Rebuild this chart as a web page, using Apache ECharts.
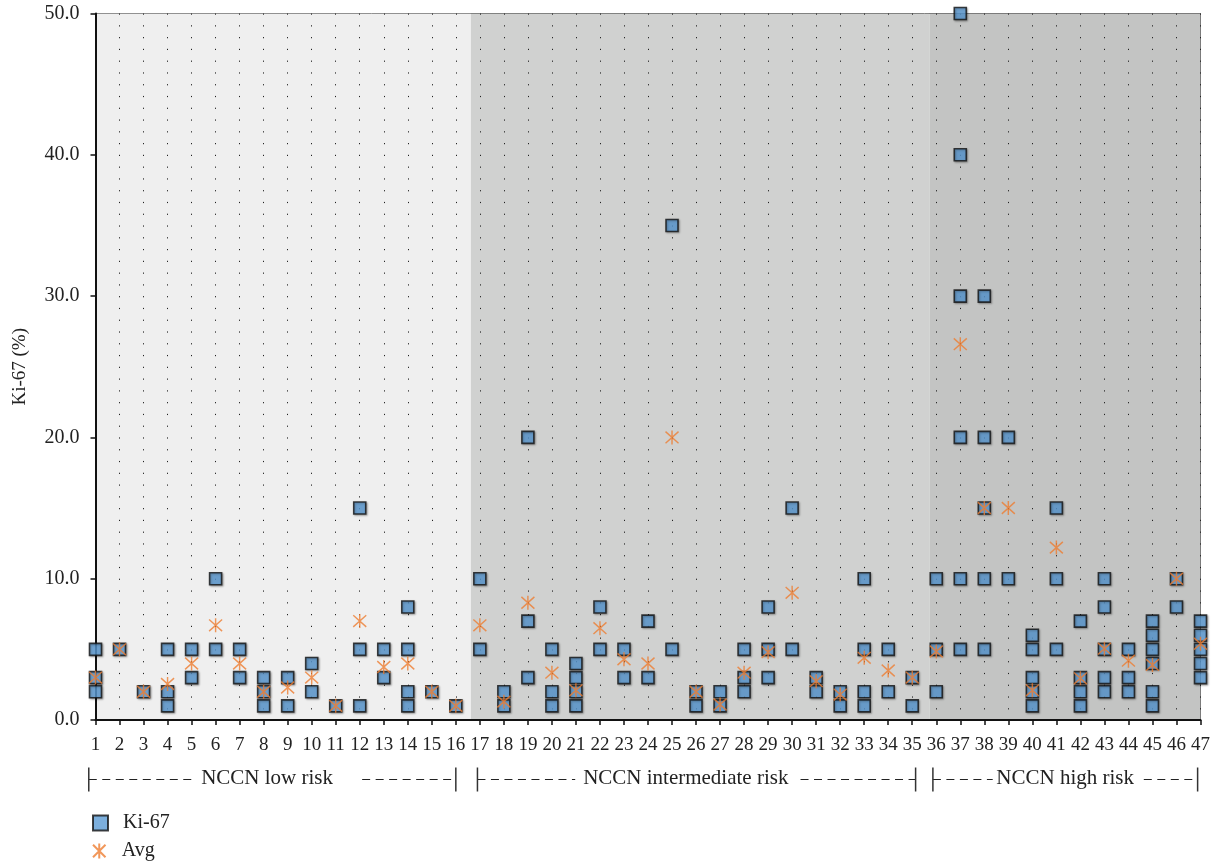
<!DOCTYPE html>
<html><head><meta charset="utf-8">
<script src="https://cdn.jsdelivr.net/npm/echarts@6/dist/echarts.min.js"></script>
<style>html,body{margin:0;padding:0;background:#fff}#c{width:1212px;height:863px}</style>
</head><body><div id="c"></div>
<script>
const patients = [1,2,3,4,5,6,7,8,9,10,11,12,13,14,15,16,17,18,19,20,21,22,23,24,25,26,27,28,29,30,31,32,33,34,35,36,37,38,39,40,41,42,43,44,45,46,47];
const ki67 = [
  [5,3,2],[5],[2],[5,2,1],[5,3],[10,5],[5,3],[3,2,1],[3,1],[4,2],
  [1],[15,5,1],[5,3],[8,5,2,1],[2],[1],[10,5],[2,1],[20,7,3],[5,2,1],
  [4,3,2,1],[8,5],[5,3],[7,3],[35,5],[2,1],[2,1],[5,3,2],[8,5,3],[15,5],
  [3,2],[2,1],[10,5,2,1],[5,2],[3,1],[10,5,2],[50,40,30,20,10,5],[30,20,15,10,5],[20,10],[6,5,3,2,1],
  [15,10,5],[7,3,2,1],[10,8,5,3,2],[5,3,2],[7,6,5,4,2,1],[10,8],[7,6,5,4,3]
];
const avg = [3,5,2,2.55,4,6.7,4,2,2.3,3,1,7,3.75,4,2,1,6.7,1.3,8.3,3.35,2.1,6.5,4.3,4,20,2,1.1,3.35,4.8,9,2.75,1.8,4.4,3.5,3,4.85,26.6,15,15,2.1,12.2,2.95,5.05,4.2,3.9,10,5.4];
const yTicks = [0,10,20,30,40,50];
const groupNames = ['NCCN low risk','NCCN intermediate risk','NCCN high risk'];
// band extents along patient axis
const bandEdges = [[1,16.63],[16.63,35.73],[35.73,47]];
// bracket extents: [start, leftDashEnd, textLeft, rightDashStart, end]
const brackets = [[0.72,5.05,5.4,12.1,16.0],[16.9,20.97,21.3,30.35,35.14],[35.86,38.35,38.5,44.64,46.88]];

const bandColors = ['#efefef','#d0d1d0','#c3c4c3'];
const FONT = '"Liberation Serif","DejaVu Serif",serif';

const kiPoints = [];
ki67.forEach((vals,i)=>vals.forEach(v=>kiPoints.push([patients[i],v])));
const avgPoints = avg.map((v,i)=>[patients[i],v]);

const legendText = {fontFamily:FONT,fontSize:20,color:'#222',padding:[0,0,0,10]};
const chart = echarts.init(document.getElementById('c'));
const option = {
  animation:false,
  backgroundColor:'#fff',
  grid:{left:95.5,right:11.5,top:13.5,bottom:143,show:true,borderColor:'#333',borderWidth:1,backgroundColor:'transparent',outerBoundsMode:'none',containLabel:false},
  xAxis:{type:'value',min:1,max:47,interval:1,z:5,
    axisLine:{show:true,lineStyle:{color:'#111',width:2}},
    axisTick:{show:true,length:5,lineStyle:{color:'#111',width:1.5}},
    axisLabel:{fontFamily:FONT,fontSize:19,color:'#222',margin:16},
    splitLine:{show:true,lineStyle:{color:'#222',width:1,type:[1.2,10.575]}}
  },
  yAxis:{type:'value',min:yTicks[0],max:yTicks[yTicks.length-1],interval:10,z:5,
    name:'Ki-67 (%)',nameLocation:'middle',nameGap:66,nameRotate:90,
    nameTextStyle:{fontFamily:FONT,fontSize:19,color:'#222'},
    axisLine:{show:true,lineStyle:{color:'#111',width:2}},
    axisTick:{show:true,length:5,lineStyle:{color:'#111',width:1.5}},
    axisLabel:{fontFamily:FONT,fontSize:20,color:'#222',margin:16,formatter:v=>v.toFixed(1)},
    splitLine:{show:false}
  },
  legend:[
    {left:92,top:813,padding:0,itemWidth:15,itemHeight:15,textStyle:legendText,data:['Ki-67']},
    {left:92,top:841,padding:0,itemWidth:15,itemHeight:15,textStyle:legendText,data:['Avg']}
  ],
  series:[
    {type:'line',name:'bands',data:[],z:-10,silent:true,
      markArea:{silent:true,data:bandEdges.map((b,i)=>[{xAxis:b[0],itemStyle:{color:bandColors[i]}},{xAxis:b[1]}])}},
    {type:'scatter',name:'Ki-67',data:kiPoints,z:6,symbol:'rect',symbolSize:12,
      itemStyle:{color:'#5b9bd5',borderColor:'#111',borderWidth:1.6,shadowBlur:2,shadowColor:'rgba(0,0,0,0.35)',shadowOffsetX:1,shadowOffsetY:1}},
    {type:'scatter',name:'Avg',data:avgPoints,z:7,
      symbol:'path://M0 0L10 10M10 0L0 10M5 -1L5 11',symbolSize:[13,14],
      itemStyle:{color:'rgba(0,0,0,0)',borderColor:'#ed7d31',borderWidth:1.5}}
  ]
};
chart.setOption(option);

function gx(v){return chart.convertToPixel({xAxisIndex:0},v);}
const yMid = 779.5;
const els = [];
brackets.forEach((b,i)=>{
  const [s,le,tl,rs,e] = b.map(gx);
  const ls = {stroke:'#222',lineWidth:1,lineDash:[8,5.5]};
  els.push({type:'line',shape:{x1:s,y1:yMid,x2:le,y2:yMid},style:ls,silent:true});
  els.push({type:'line',shape:{x1:rs,y1:yMid,x2:e,y2:yMid},style:ls,silent:true});
  els.push({type:'line',shape:{x1:s,y1:yMid-12,x2:s,y2:yMid+12},style:{stroke:'#333',lineWidth:1.5},silent:true});
  els.push({type:'line',shape:{x1:e,y1:yMid-12,x2:e,y2:yMid+12},style:{stroke:'#333',lineWidth:1.5},silent:true});
  els.push({type:'text',x:tl,y:yMid-1,style:{text:groupNames[i],font:'21px '+FONT,fill:'#222',verticalAlign:'middle',align:'left'},silent:true});
});
chart.setOption({graphic:{elements:els}});
</script></body></html>
